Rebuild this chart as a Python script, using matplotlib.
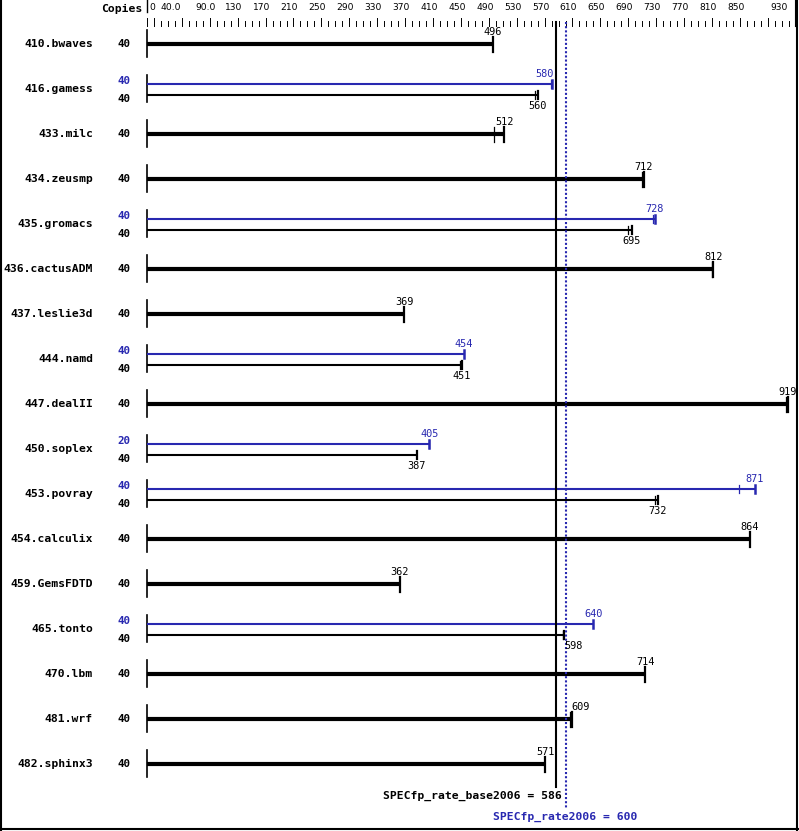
import matplotlib.pyplot as plt

benchmarks = ["410.bwaves", "416.gamess", "433.milc", "434.zeusmp", "435.gromacs",
              "436.cactusADM", "437.leslie3d", "444.namd", "447.dealII", "450.soplex",
              "453.povray", "454.calculix", "459.GemsFDTD", "465.tonto", "470.lbm",
              "481.wrf", "482.sphinx3"]
base_copies = [40, 40, 40, 40, 40, 40, 40, 40, 40, 40, 40, 40, 40, 40, 40, 40, 40]
base_ratio = [496, 560, 512, 712, 695, 812, 369, 451, 919, 387, 732, 864, 362, 598, 714, 609, 571]
base_runs = [None, 556, 498, 709, 689, 810, None, 449, 916, None, 729, None, None, 597, None, 606, None]
peak_copies = [None, 40, None, None, 40, None, None, 40, None, 20, 40, None, None, 40, None, None, None]
peak_ratio = [None, 580, None, None, 728, None, None, 454, None, 405, 871, None, None, 640, None, None, None]
peak_runs = [None, 579, None, None, 725, None, None, None, None, 404, 848, None, None, None, None, None, None]

base_score = 586
peak_score = 600
tick_labels = ["0", "40.0", "90.0", "130", "170", "210", "250", "290", "330", "370", "410",
               "450", "490", "530", "570", "610", "650", "690", "730", "770", "810", "850", "930"]
tick_values = [0, 40, 90, 130, 170, 210, 250, 290, 330, 370, 410,
               450, 490, 530, 570, 610, 650, 690, 730, 770, 810, 850, 930]

BLUE = "#2828b0"
MONO = "DejaVu Sans Mono"
NARROW = ["Liberation Sans Narrow", "DejaVu Sans"]

W, H = 799, 831
fig = plt.figure(figsize=(W / 100, H / 100), dpi=100)
x0, x1 = 147, 795
xmax = 929
ax = fig.add_axes([x0 / W, 0, (x1 - x0) / W, 1])
ax.set_xlim(0, xmax)
# rows: 1 unit = 45 px, row 0 centred at 44 px
ax.set_ylim((H - 44) / 45, -44 / 45)
ax.axis("off")

P = 1 / 45            # one pixel in y units
U = xmax / (x1 - x0)  # one pixel in x units


def py(px):
    return (px - 44) / 45


# top scale
for v in range(0, 930, 10):
    long = v == 0 or (v - 10) % 40 == 0
    ax.plot([v, v], [py(18 if long else 21), py(26)], color="black", lw=0.7, clip_on=False)
ax.plot([xmax, xmax], [py(0), py(26)], color="black", lw=0.8, clip_on=False)
for lab, v in zip(tick_labels, tick_values):
    if v == 0:
        ax.text(v + 2 * U, py(7), lab, ha="left", va="center", fontsize=6.6, family=NARROW)
    elif v == tick_values[-1]:
        ax.text(xmax - 7 * U, py(7), lab, ha="right", va="center", fontsize=6.6, family=NARROW)
    else:
        ax.text(v - 4 * U, py(7), lab, ha="center", va="center", fontsize=6.6, family=NARROW)
ax.plot([0, 0], [py(0), py(12)], color="black", lw=1, clip_on=False)
ax.text(-5 * U, py(9), "Copies", ha="right", va="center", fontsize=8.2,
        family=MONO, fontweight="bold")

for i, name in enumerate(benchmarks):
    ax.plot([0, 0], [i - 14 * P, i + 13 * P], color="black", lw=1.2, clip_on=False)
    ax.text(-54 * U, i, name, ha="right", va="center", fontsize=8.2,
            family=MONO, fontweight="bold")
    b = base_ratio[i]
    if peak_ratio[i] is None:
        ax.plot([0, b], [i, i], color="black", lw=3, solid_capstyle="butt")
        ax.plot([b, b], [i - 7 * P, i + 8 * P], color="black", lw=1.6)
        if base_runs[i] is not None:
            r = base_runs[i]
            ax.plot([r, r], [i - 7 * P, i + 8 * P], color="black", lw=0.9)
        ax.text(-23 * U, i, str(base_copies[i]), ha="center", va="center",
                fontsize=7.8, family=MONO, fontweight="bold")
        xo = 9 * U if abs(b - peak_score) < 15 else 0
        ax.text(b + xo, i - 7 * P, str(b), ha="center", va="bottom",
                fontsize=7.4, family=MONO)
    else:
        p = peak_ratio[i]
        yp, yb = i - 5 * P, i + 6 * P
        ax.plot([0, p], [yp, yp], color=BLUE, lw=1.5, solid_capstyle="butt")
        ax.plot([p, p], [yp - 4 * P, yp + 4 * P], color=BLUE, lw=1.8)
        if peak_runs[i] is not None:
            r = peak_runs[i]
            ax.plot([r, r], [yp - 4 * P, yp + 4 * P], color=BLUE, lw=0.9)
        ax.plot([0, b], [yb, yb], color="black", lw=1.5, solid_capstyle="butt")
        ax.plot([b, b], [yb - 4 * P, yb + 4 * P], color="black", lw=1.6)
        if base_runs[i] is not None:
            r = base_runs[i]
            ax.plot([r, r], [yb - 4 * P, yb + 4 * P], color="black", lw=0.9)
        ax.text(-23 * U, i - 8 * P, str(peak_copies[i]), ha="center", va="center",
                fontsize=7.8, family=MONO, fontweight="bold", color=BLUE)
        ax.text(-23 * U, i + 10 * P, str(base_copies[i]), ha="center", va="center",
                fontsize=7.8, family=MONO, fontweight="bold")
        po = -7 * U if abs(p - base_score) < 12 else 0
        ax.text(p + po, yp - 5 * P, str(p), ha="center", va="bottom",
                fontsize=7.4, family=MONO, color=BLUE)
        xo = 9 * U if abs(b - peak_score) < 15 else 0
        ax.text(b + xo, yb + 6 * P, str(b), ha="center", va="top",
                fontsize=7.4, family=MONO)

# overall scores
ax.plot([base_score, base_score], [py(22), py(787)], color="black", lw=1.5, clip_on=False)
ax.plot([peak_score, peak_score], [py(22), py(808)], color=BLUE, lw=1.5,
        linestyle=(0, (1, 1)), clip_on=False)
ax.text(base_score + 6 * U, py(796), "SPECfp_rate_base2006 = %d" % base_score,
        ha="right", va="center", fontsize=8.2, family=MONO, fontweight="bold")
ax.text(peak_score, py(817), "SPECfp_rate2006 = %d" % peak_score, ha="center",
        va="center", fontsize=8.2, family=MONO, fontweight="bold", color=BLUE)

# border
fig.add_artist(plt.Line2D([1 / W, 1 / W], [0, 1], color="black", lw=1.5))
fig.add_artist(plt.Line2D([797 / W, 797 / W], [0, 1], color="black", lw=1.5))
fig.add_artist(plt.Line2D([0, 1], [2 / H, 2 / H], color="black", lw=1.5))

fig.savefig("out.png", dpi=100)
